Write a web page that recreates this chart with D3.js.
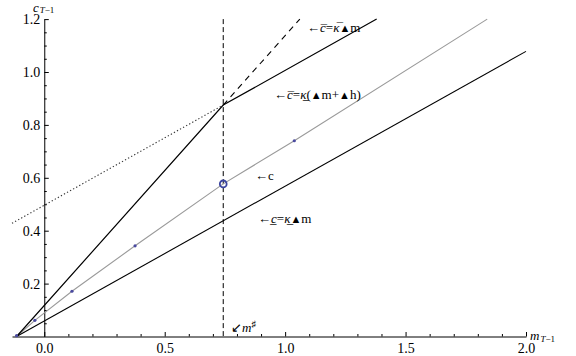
<!DOCTYPE html>
<html><head><meta charset="utf-8">
<script src="https://cdn.jsdelivr.net/npm/d3@7"></script>
<style>body{margin:0;background:#fff}svg{display:block}</style>
</head><body><svg id="c" width="576" height="356"></svg>
<script>
// ---- data ----
const xMajorTicks = [0.0, 0.5, 1.0, 1.5, 2.0];
const yMajorTicks = [0.2, 0.4, 0.6, 0.8, 1.0, 1.2];
const xMinorTicks = [0.1,0.2,0.3,0.4,0.6,0.7,0.8,0.9,1.1,1.2,1.3,1.4,1.6,1.7,1.8,1.9];
const yMinorTicks = [0.05,0.1,0.15,0.25,0.3,0.35,0.45,0.5,0.55,0.65,0.7,0.75,0.85,0.9,0.95,1.05,1.1,1.15];
// lower bound line  c = kappa_ * dm
const lowerLineM = [-0.115, 2.0];
const lowerLineC = [0.0, 1.078];
// upper kinked bound
const upperLineM = [-0.115, 0.743, 1.380];
const upperLineC = [0.0, 0.875, 1.2];
// dashed continuation of steep segment
const steepDashM = [0.743, 1.061];
const steepDashC = [0.875, 1.2];
// dotted backward extension of upper segment
const dottedM = [-0.134, 0.743];
const dottedC = [0.428, 0.875];
// consumption function (gray)
const consM = [-0.115, -0.039, 0.115, 0.377, 0.743, 1.038, 1.839];
const consC = [0.0, 0.061, 0.171, 0.343, 0.577, 0.740, 1.200];
// computed points on the consumption function
const dotM = [-0.115, -0.039, 0.115, 0.377, 1.038];
const dotC = [0.003, 0.061, 0.171, 0.343, 0.740];
const targetM = 0.743, targetC = 0.577;
const mSharp = 0.743;

// ---- scales ----
const svg = d3.select("#c");
const x = d3.scaleLinear().domain([-0.134, 2.0]).range([12, 526]);
const y = d3.scaleLinear().domain([0, 1.2]).range([336.5, 19.1]);
const zip = (a, b) => a.map((v, i) => [v, b[i]]);
const line = d3.line().x(d => x(d[0])).y(d => y(d[1]));
const FONT = "Liberation Serif";

// axes
const gx = svg.append("g").attr("transform", `translate(0,${y(0)})`);
gx.call(d3.axisBottom(x).tickValues(xMajorTicks).tickFormat(d3.format(".1f"))
  .tickSizeInner(-4.5).tickSizeOuter(0).tickPadding(5));
gx.append("g").call(d3.axisBottom(x).tickValues(xMinorTicks).tickFormat("").tickSizeInner(-2.5).tickSizeOuter(0))
  .select(".domain").remove();
const gy = svg.append("g").attr("transform", `translate(${x(0)},0)`);
gy.call(d3.axisLeft(y).tickValues(yMajorTicks).tickFormat(d3.format(".1f"))
  .tickSizeInner(-4.5).tickSizeOuter(0).tickPadding(4));
gy.append("g").call(d3.axisLeft(y).tickValues(yMinorTicks).tickFormat("").tickSizeInner(-2.5).tickSizeOuter(0))
  .select(".domain").remove();
svg.selectAll("g").attr("font-family", FONT);
svg.selectAll(".tick text").attr("font-family", FONT).attr("font-size", 14).attr("fill", "#000");
svg.selectAll(".domain,.tick line").attr("stroke", "#000").attr("stroke-width", 1);
gx.selectAll(".tick text").attr("dy", "0.85em");

// axis titles
function sublabel(px, py, main) {
  const t = svg.append("text").attr("x", px).attr("y", py).attr("font-size", 13).attr("font-family", FONT);
  t.append("tspan").attr("font-style", "italic").text(main);
  t.append("tspan").attr("font-size", 9).attr("dx", 1).attr("dy", 1.5).attr("font-style", "italic").text("T");
  t.append("tspan").attr("font-size", 9).text("\u22121");
}
sublabel(33, 11.5, "c");
sublabel(530, 340, "m");

// vertical m# line
svg.append("line").attr("x1", x(mSharp)).attr("x2", x(mSharp)).attr("y1", y(1.2)).attr("y2", y(0))
  .attr("stroke", "#000").attr("stroke-width", 1).attr("stroke-dasharray", "5,3");

// lines
svg.append("path").attr("d", line(zip(dottedM, dottedC))).attr("fill", "none")
  .attr("stroke", "#333").attr("stroke-width", 1.1).attr("stroke-dasharray", "1.3,2.2");
svg.append("path").attr("d", line(zip(steepDashM, steepDashC))).attr("fill", "none")
  .attr("stroke", "#000").attr("stroke-width", 1.1).attr("stroke-dasharray", "6,5");
svg.append("path").attr("d", line(zip(consM, consC))).attr("fill", "none")
  .attr("stroke", "#9a9a9a").attr("stroke-width", 1.1);
svg.append("path").attr("d", line(zip(lowerLineM, lowerLineC))).attr("fill", "none")
  .attr("stroke", "#000").attr("stroke-width", 1.1);
svg.append("path").attr("d", line(zip(upperLineM, upperLineC))).attr("fill", "none")
  .attr("stroke", "#000").attr("stroke-width", 1.2);

// dots
svg.selectAll(".dot").data(zip(dotM, dotC)).enter().append("circle")
  .attr("cx", d => x(d[0])).attr("cy", d => y(d[1])).attr("r", 1.6).attr("fill", "#4a4aa0");
svg.append("circle").attr("cx", x(targetM)).attr("cy", y(targetC)).attr("r", 3.4)
  .attr("fill", "none").attr("stroke", "#3b45a0").attr("stroke-width", 1.8);

// labels
function label(px, py, parts) {
  const t = svg.append("text").attr("x", px).attr("y", py).attr("font-size", 13).attr("font-family", FONT);
  parts.forEach(p => {
    const s = t.append("tspan").text(p[0]);
    if (p[1]) s.attr("font-style", "italic");
    if (p[2]) s.attr("font-size", p[2]);
  });
}
label(307, 32, [["\u2190"], ["c\u0305", 1], ["="], ["\u03BA\u0305", 1], ["\u25B2", 0, 11], ["m"]]);
label(274, 99, [["\u2190"], ["c\u0305", 1], ["="], ["\u03BA\u0332", 1], ["("], ["\u25B2", 0, 11], ["m+"], ["\u25B2", 0, 11], ["h)"]]);
label(255, 180, [["\u2190c"]]);
label(258, 223, [["\u2190"], ["c\u0332", 1], ["="], ["\u03BA\u0332", 1], ["\u25B2", 0, 11], ["m"]]);
const ms = svg.append("text").attr("x", 231).attr("y", 332).attr("font-size", 13).attr("font-family", FONT);
ms.append("tspan").text("\u2199");
ms.append("tspan").attr("font-style", "italic").text("m");
ms.append("tspan").attr("font-size", 9).attr("dy", -5).text("\u266F");
</script></body></html>
